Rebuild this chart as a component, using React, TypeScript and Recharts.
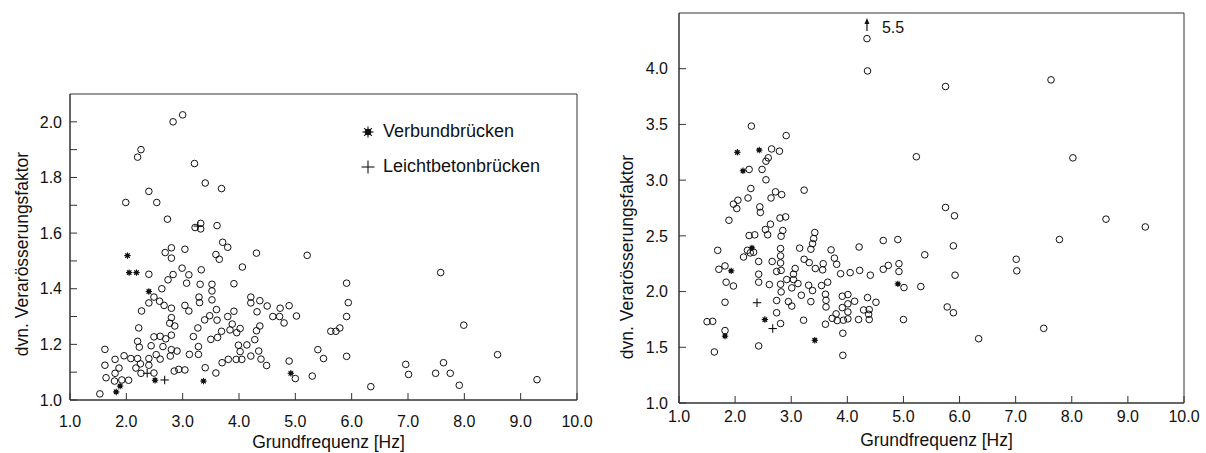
import { Legend, ReferenceArea, Scatter, ScatterChart, XAxis, YAxis } from "recharts";

const FONT = '"Liberation Sans", Arial, Helvetica, sans-serif';
const INK = "#111";
const FRAME = "#333";

// [Grundfrequenz Hz, dyn. factor]
const leftCircles: [number, number][] = [
  [3.0, 2.025], [2.83, 2.0], [2.26, 1.9], [2.2, 1.873], [3.21, 1.85], [3.4, 1.78], [3.69, 1.76],
  [2.4, 1.75], [1.99, 1.71], [2.54, 1.71], [2.73, 1.65], [3.22, 1.62], [3.32, 1.635], [3.32, 1.615],
  [3.61, 1.627], [2.8, 1.547], [2.69, 1.53], [2.8, 1.51], [3.04, 1.542], [3.59, 1.523], [3.65, 1.506],
  [3.71, 1.567], [3.8, 1.549], [4.31, 1.528], [5.21, 1.52], [4.06, 1.478], [2.99, 1.474], [3.33, 1.468],
  [2.4, 1.452], [2.83, 1.451], [2.74, 1.432], [3.11, 1.45], [3.07, 1.42], [3.31, 1.416], [3.52, 1.416],
  [3.52, 1.392], [3.91, 1.418], [2.63, 1.4], [3.29, 1.37], [3.3, 1.35], [3.52, 1.36], [2.49, 1.37],
  [2.4, 1.349], [2.59, 1.355], [2.67, 1.34], [2.8, 1.33], [2.27, 1.32], [3.04, 1.34], [3.11, 1.32],
  [3.6, 1.325], [3.48, 1.303], [3.39, 1.288], [3.61, 1.287], [3.91, 1.319], [3.8, 1.3], [4.21, 1.37],
  [4.21, 1.349], [4.37, 1.357], [4.32, 1.317], [4.5, 1.338], [4.73, 1.33], [4.6, 1.3], [4.72, 1.3],
  [4.8, 1.277], [4.89, 1.339], [5.02, 1.302], [2.8, 1.296], [2.77, 1.276], [2.86, 1.266], [2.22, 1.259],
  [2.8, 1.233], [3.27, 1.259], [3.19, 1.228], [3.88, 1.273], [3.84, 1.252], [3.96, 1.242], [4.02, 1.257],
  [4.37, 1.266], [4.31, 1.249], [4.28, 1.217], [4.14, 1.198], [3.99, 1.197], [4.02, 1.174], [3.69, 1.247],
  [3.62, 1.225], [3.5, 1.218], [2.2, 1.211], [2.23, 1.19], [2.49, 1.227], [2.6, 1.229], [2.7, 1.22],
  [2.44, 1.195], [2.65, 1.192], [2.53, 1.163], [2.8, 1.181], [2.9, 1.176], [2.78, 1.158], [2.6, 1.147],
  [2.4, 1.149], [2.4, 1.125], [3.12, 1.164], [3.28, 1.192], [3.28, 1.164], [3.7, 1.134], [3.81, 1.146],
  [3.95, 1.146], [4.05, 1.146], [4.21, 1.158], [4.35, 1.176], [4.39, 1.147], [4.49, 1.124], [4.89, 1.14],
  [3.4, 1.116], [3.59, 1.097], [2.93, 1.11], [3.04, 1.108], [2.85, 1.104], [2.49, 1.097], [2.26, 1.096],
  [2.17, 1.115], [2.25, 1.13], [2.2, 1.149], [2.08, 1.149], [1.96, 1.159], [1.62, 1.182], [1.8, 1.146],
  [1.62, 1.125], [1.87, 1.115], [1.8, 1.096], [1.64, 1.08], [1.79, 1.068], [1.92, 1.072], [2.04, 1.071],
  [1.53, 1.022], [5.3, 1.086], [5.0, 1.077], [5.4, 1.181], [5.5, 1.149], [7.58, 1.458], [5.91, 1.42],
  [5.94, 1.35], [5.91, 1.3], [5.79, 1.259], [5.63, 1.247], [5.72, 1.247], [7.99, 1.269], [5.91, 1.157],
  [8.59, 1.163], [6.96, 1.128], [7.63, 1.134], [7.01, 1.092], [7.49, 1.096], [7.75, 1.096], [7.91, 1.053],
  [6.34, 1.048], [9.29, 1.073],
];
const leftStars: [number, number][] = [
  [2.02, 1.519], [2.05, 1.458], [2.18, 1.458], [2.4, 1.39], [2.51, 1.071], [3.37, 1.068],
  [1.89, 1.05], [1.82, 1.029], [4.92, 1.096],
];
const leftPluses: [number, number][] = [[2.68, 1.072], [2.37, 1.096], [3.27, 1.625]];

// right panel
const rightCircles: [number, number][] = [
  [2.29, 3.485], [2.91, 3.4], [2.65, 3.28], [2.79, 3.26], [2.59, 3.2], [2.55, 3.17], [2.25, 3.096],
  [2.48, 3.096], [2.55, 3.003], [2.28, 2.925], [2.23, 2.84], [2.72, 2.895], [2.83, 2.87], [2.64, 2.84],
  [3.23, 2.91], [1.97, 2.785], [2.05, 2.82], [2.03, 2.745], [1.89, 2.64], [2.44, 2.76], [2.45, 2.71],
  [2.8, 2.66], [2.9, 2.67], [2.63, 2.605], [2.54, 2.557], [2.58, 2.51], [2.85, 2.548], [2.82, 2.497],
  [2.25, 2.503], [2.35, 2.509], [3.42, 2.53], [3.4, 2.476], [3.38, 2.43], [3.35, 2.38], [5.23, 3.21],
  [5.75, 2.755], [5.91, 2.68], [5.89, 2.41], [5.92, 2.147], [5.78, 1.862], [5.89, 1.81], [5.38, 2.33],
  [4.9, 2.467], [4.64, 2.458], [4.92, 2.25], [4.92, 2.18], [4.73, 2.235], [4.64, 2.2], [4.21, 2.4],
  [3.71, 2.374], [3.77, 2.3], [3.81, 2.245], [3.15, 2.39], [3.23, 2.29], [3.32, 2.26], [3.57, 2.25],
  [3.56, 2.195], [3.43, 2.207], [3.88, 2.16], [4.05, 2.17], [4.22, 2.19], [4.41, 2.147], [1.69, 2.37],
  [1.82, 2.23], [1.71, 2.2], [1.84, 2.084], [1.97, 2.05], [1.82, 1.904], [1.5, 1.73], [1.6, 1.733],
  [1.82, 1.65], [1.63, 1.458], [2.42, 1.512], [2.22, 2.37], [2.27, 2.347], [2.33, 2.353], [2.15, 2.31],
  [2.42, 2.27], [2.42, 2.156], [2.42, 2.084], [2.66, 2.27], [2.74, 2.18], [2.82, 2.19], [2.61, 2.063],
  [2.81, 2.386], [2.81, 2.32], [2.81, 2.257], [2.81, 2.066], [2.82, 1.997], [2.92, 2.108], [3.04, 2.156],
  [3.04, 2.108], [3.01, 2.033], [3.12, 2.072], [3.18, 1.967], [3.31, 2.057], [3.38, 2.009], [3.35, 1.91],
  [3.07, 2.207], [3.54, 2.054], [3.65, 2.084], [3.61, 1.976], [3.62, 1.922], [3.62, 1.862], [2.74, 1.92],
  [2.95, 1.91], [3.01, 1.87], [2.74, 1.81], [2.81, 1.713], [3.22, 1.743], [3.61, 1.707], [3.73, 1.76],
  [3.8, 1.8], [3.82, 1.74], [3.91, 1.958], [4.01, 1.973], [3.91, 1.856], [4.01, 1.89], [4.01, 1.817],
  [3.93, 1.743], [4.01, 1.755], [4.13, 1.913], [3.92, 1.626], [3.92, 1.428], [4.2, 1.749], [4.29, 1.835],
  [4.36, 1.946], [4.39, 1.838], [4.38, 1.796], [4.39, 1.749], [4.51, 1.904], [5.0, 1.749], [5.31, 2.045],
  [5.01, 2.036], [5.75, 3.84], [7.63, 3.9], [8.02, 3.2], [8.61, 2.65], [9.31, 2.58], [7.78, 2.467],
  [7.01, 2.29], [7.02, 2.186], [7.5, 1.67], [6.34, 1.577], [4.35, 4.27], [4.36, 3.98],
];
const rightStars: [number, number][] = [
  [2.04, 3.25], [2.43, 3.27], [2.14, 3.084], [2.3, 2.392], [1.93, 2.186], [2.53, 1.749],
  [1.82, 1.6], [3.42, 1.563], [4.9, 2.069],
];
const rightPluses: [number, number][] = [[2.39, 1.9], [2.67, 1.668]];

// off-scale value marked with an arrow
const offScale = [{ x: 4.35, y: 4.393, label: "5.5" }];

const xTicks = [1, 2, 3, 4, 5, 6, 7, 8, 9, 10];
const leftYTicks = [1.0, 1.1, 1.2, 1.3, 1.4, 1.5, 1.6, 1.7, 1.8, 1.9, 2.0];
const rightYTicks = [1.0, 1.5, 2.0, 2.5, 3.0, 3.5, 4.0];

const legendItems = [
  { name: "Verbundbrücken", kind: "star" },
  { name: "Leichtbetonbrücken", kind: "plus" },
];

const xTitle = "Grundfrequenz [Hz]";
const yTitle = "dvn. Verarösserungsfaktor";

const pts = (a: [number, number][]) => a.map(([x, y]) => ({ x, y }));

function Ring(p: any) {
  return <circle cx={p.cx} cy={p.cy} r={3.3} fill="none" stroke={INK} strokeWidth={1} />;
}

function starGlyph(cx: number, cy: number, r: number) {
  return (
    <g stroke={INK} strokeWidth={1.1}>
      {[0, 45, 90, 135].map((a) => {
        const dx = Math.cos((a * Math.PI) / 180) * r;
        const dy = Math.sin((a * Math.PI) / 180) * r;
        return <line key={a} x1={cx - dx} y1={cy - dy} x2={cx + dx} y2={cy + dy} />;
      })}
      <circle cx={cx} cy={cy} r={r * 0.5} fill={INK} />
    </g>
  );
}

function plusGlyph(cx: number, cy: number, r: number) {
  return (
    <g stroke={INK} strokeWidth={1.1}>
      <line x1={cx - r} y1={cy} x2={cx + r} y2={cy} />
      <line x1={cx} y1={cy - r} x2={cx} y2={cy + r} />
    </g>
  );
}

const Star = (p: any) => starGlyph(p.cx, p.cy, 3.2);
const Plus = (p: any) => plusGlyph(p.cx, p.cy, 4.2);

function Arrow(p: any) {
  const { cx, cy } = p;
  return (
    <g>
      <line x1={cx} y1={cy - 3} x2={cx} y2={cy + 6} stroke={INK} strokeWidth={1.2} />
      <path d={`M${cx} ${cy - 7} L${cx - 2.5} ${cy - 1} L${cx + 2.5} ${cy - 1} Z`} fill={INK} />
      <text x={cx + 15} y={cy + 8.5} fontSize={16} fontFamily={FONT} fill={INK}>
        {offScale[0].label}
      </text>
    </g>
  );
}

const xTick = (dy: number) => (p: any) => (
  <g>
    <line x1={p.x} x2={p.x} y1={p.y} y2={p.y - 7} stroke={FRAME} />
    <text x={p.x} y={p.y + dy} textAnchor="middle" fontSize={16} fontFamily={FONT} fill={INK}>
      {Number(p.payload.value).toFixed(1)}
    </text>
  </g>
);

const yTick = (gap: number, every: number) => (p: any) => {
  const v = Number(p.payload.value);
  const show = Math.abs(Math.round(v * 10) % every) === 0;
  return (
    <g>
      <line x1={p.x} x2={p.x + 7} y1={p.y} y2={p.y} stroke={FRAME} />
      {show && (
        <text x={p.x - gap} y={p.y} dy="0.36em" textAnchor="end" fontSize={16} fontFamily={FONT} fill={INK}>
          {v.toFixed(1)}
        </text>
      )}
    </g>
  );
};

const xLabel = (dx: number, dy: number) => (p: any) => {
  const vb = p.viewBox || {};
  return (
    <text x={vb.x + vb.width / 2 + dx} y={vb.y + dy} textAnchor="middle" fontSize={17.5} fontFamily={FONT} fill={INK}>
      {xTitle}
    </text>
  );
};

const yLabel = (cx: number, dy: number) => (p: any) => {
  const vb = p.viewBox || {};
  const x = vb.x + cx;
  const y = vb.y + vb.height / 2 + dy;
  return (
    <text
      x={x}
      y={y}
      transform={`rotate(-90 ${x} ${y})`}
      textAnchor="middle"
      dominantBaseline="central"
      fontSize={17.5}
      fontFamily={FONT}
      fill={INK}
    >
      {yTitle}
    </text>
  );
};

function LegendBox() {
  return (
    <div style={{ fontFamily: FONT, fontSize: 18, color: INK }}>
      {legendItems.map((it) => (
        <div key={it.name} style={{ display: "flex", alignItems: "center", height: 35 }}>
          <svg width={22} height={22}>
            {it.kind === "star" ? starGlyph(11, 11, 5.5) : plusGlyph(11, 11, 6.5)}
          </svg>
          <span style={{ marginLeft: 4 }}>{it.name}</span>
        </div>
      ))}
    </div>
  );
}

export default function App() {
  return (
    <div style={{ position: "absolute", left: 0, top: 0, width: 1206, height: 453, background: "#fff" }}>
      <div style={{ position: "absolute", left: 0, top: 0 }}>
        <ScatterChart width={600} height={453} margin={{ top: 94, right: 23, bottom: 0, left: 0 }}>
          <XAxis
            type="number"
            dataKey="x"
            domain={[1, 10]}
            ticks={xTicks}
            interval={0}
            height={53}
            tickSize={0}
            tickMargin={0}
            tickLine={false}
            axisLine={{ stroke: FRAME }}
            tick={xTick(27)}
            label={xLabel(5, 48)}
          />
          <YAxis
            type="number"
            dataKey="y"
            domain={[1, 2.1]}
            ticks={leftYTicks}
            interval={0}
            width={70}
            tickSize={0}
            tickMargin={0}
            tickLine={false}
            axisLine={{ stroke: FRAME }}
            tick={yTick(8, 2)}
            label={yLabel(22, 7)}
          />
          <ReferenceArea x1={1} x2={10} y1={1} y2={2.1} fill="none" stroke={FRAME} ifOverflow="visible" />
          <Scatter name="Brücken" data={pts(leftCircles)} shape={Ring} isAnimationActive={false} />
          <Scatter name="Verbundbrücken" data={pts(leftStars)} shape={Star} isAnimationActive={false} />
          <Scatter name="Leichtbetonbrücken" data={pts(leftPluses)} shape={Plus} isAnimationActive={false} />
          <Legend
            layout="horizontal"
            verticalAlign="middle"
            align="center"
            wrapperStyle={{ top: 114, left: 357, width: "auto" }}
            content={() => <LegendBox />}
          />
        </ScatterChart>
      </div>
      <div style={{ position: "absolute", left: 600, top: 0 }}>
        <ScatterChart width={606} height={453} margin={{ top: 13, right: 22, bottom: 0, left: 0 }}>
          <XAxis
            type="number"
            dataKey="x"
            domain={[1, 10]}
            ticks={xTicks}
            interval={0}
            height={50}
            tickSize={0}
            tickMargin={0}
            tickLine={false}
            axisLine={{ stroke: FRAME }}
            tick={xTick(19)}
            label={xLabel(5, 43)}
          />
          <YAxis
            type="number"
            dataKey="y"
            domain={[1, 4.5]}
            ticks={rightYTicks}
            interval={0}
            width={79}
            tickSize={0}
            tickMargin={0}
            tickLine={false}
            axisLine={{ stroke: FRAME }}
            tick={yTick(11, 5)}
            label={yLabel(27, 49)}
          />
          <ReferenceArea x1={1} x2={10} y1={1} y2={4.5} fill="none" stroke={FRAME} ifOverflow="visible" />
          <Scatter name="Brücken" data={pts(rightCircles)} shape={Ring} isAnimationActive={false} />
          <Scatter name="Verbundbrücken" data={pts(rightStars)} shape={Star} isAnimationActive={false} />
          <Scatter name="Leichtbetonbrücken" data={pts(rightPluses)} shape={Plus} isAnimationActive={false} />
          <Scatter name="off-scale" data={offScale} shape={Arrow} isAnimationActive={false} />
        </ScatterChart>
      </div>
    </div>
  );
}
